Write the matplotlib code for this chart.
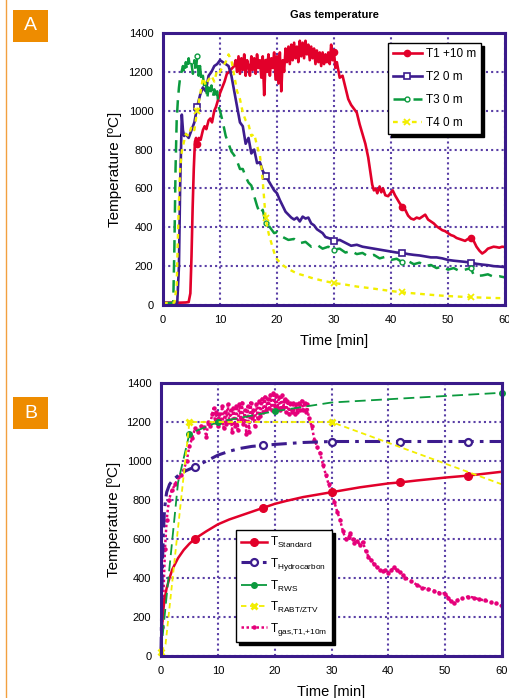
"""
Gas temperature in the tunnel test (A) and the measured curve at T1 +10 m
against the standard design fire curves (B).
"""
import numpy as np
import matplotlib
matplotlib.use("Agg")
import matplotlib.pyplot as plt
from matplotlib.lines import Line2D
from matplotlib.patches import Rectangle

plt.rcParams["font.family"] = ["Liberation Sans", "DejaVu Sans"]
plt.rcParams["mathtext.fontset"] = "custom"
plt.rcParams["mathtext.rm"] = "Liberation Sans"
plt.rcParams["mathtext.it"] = "Liberation Sans:italic"
plt.rcParams["mathtext.bf"] = "Liberation Sans:bold"

# --- Panel A: measured gas temperatures [min], [C] ---
t1_time = np.concatenate([
    [0, 1, 2, 3, 4, 4.5, 4.8, 5.0, 5.2, 5.4, 5.6, 5.8, 6.0, 6.3, 6.6,
     7.0, 7.3, 7.6, 8.0, 8.3, 8.6, 9.0, 9.3, 9.6, 10.0, 10.4, 10.8, 11.2, 11.6, 12.0],
    np.arange(12.5, 30.6, 0.25),
    [31, 31.5, 32, 32.5, 33, 33.5, 34, 34.5, 35, 35.5, 36,
     36.3, 36.7, 37, 37.3, 37.6, 38, 38.3, 38.6, 39,
     39.5, 40, 40.3, 40.7, 41],
    np.arange(41.5, 60.1, 0.5),
])
t1_temp = [
    12, 12, 12, 12, 13, 15, 60, 250, 500, 700, 840, 860, 830, 860, 850,
    900, 920, 905, 950, 960, 940, 1000, 1020, 1050, 1090, 1120, 1150, 1190, 1200, 1215,
    1230, 1260,
    1200, 1280, 1190, 1270,
    1210, 1290, 1180, 1260,
    1230, 1180, 1280, 1210,
    1270, 1190, 1290, 1220,
    1260, 1170, 1280, 1080,
    1250, 1200, 1290, 1180,
    1270, 1220, 1300, 1160,
    1280, 1140, 1300, 1100,
    1260, 1200, 1320, 1250,
    1330, 1240, 1340, 1260,
    1350, 1270, 1330, 1250,
    1360, 1280, 1350, 1270,
    1360, 1290, 1340, 1260,
    1330, 1270, 1320, 1240,
    1310, 1250, 1300, 1230,
    1300, 1240, 1290, 1250,
    1300, 1240, 1340, 1260,
    1300, 1220, 1250,
    1170, 1180, 1120, 1060, 1030, 1010, 990, 930, 880, 830, 760,
    700, 620, 590, 600, 575, 610, 580, 600, 565,
    560, 580, 590, 565, 550,
    525, 505, 490, 460, 445, 440, 450, 445, 455, 465,
    440, 430, 420, 405, 395, 385, 380, 370, 360, 355,
    345, 340, 335, 330, 340, 345, 330, 300, 280, 265,
    275, 290, 295, 300, 298, 295, 300, 298,
]

t2_time = np.concatenate([
    [0, 1, 2, 2.5, 2.8, 3.0, 3.2, 3.3, 3.5, 3.7, 4.0, 4.5, 5.0, 5.5],
    np.arange(6, 30.1, 0.5),
    np.arange(31, 60.1, 1),
])
t2_temp = [
    10, 10, 10, 12, 200, 600, 850, 980, 900, 870, 880, 860, 900, 940,
    1020, 1080, 1120, 1100, 1180, 1200, 1230, 1240, 1260, 1250,
    1240, 1230, 1180, 1100, 1020, 940, 920, 830, 860, 780,
    800, 730, 735, 690, 665, 640, 615, 590, 575, 540,
    510, 480, 465, 450, 440, 450, 430, 455, 445, 450,
    420, 410, 390, 380, 370, 350, 345, 340, 330,
    335, 320, 305, 310, 300, 295, 290, 285, 280, 275,
    270, 268, 262, 258, 255, 250, 245, 245, 240, 232,
    228, 225, 222, 218, 212, 208, 205, 200, 198, 195,
]

t3_time = np.concatenate([
    [0, 1, 1.5, 1.8, 2.0, 2.2, 2.4, 2.6, 2.8, 3.0],
    np.arange(3.25, 10.01, 0.25),
    np.arange(10.5, 20.01, 0.5),
    np.arange(21, 54.01, 1),
    [54.5, 55, 56, 57, 58, 59, 60],
])
t3_temp = [
    10, 10, 10, 15, 300, 700, 950, 1050, 1120, 1170,
    1200, 1230, 1190, 1250, 1210, 1270, 1220, 1240, 1190, 1260,
    1200, 1280, 1180, 1230, 1150, 1180, 1120, 1150, 1060, 1120,
    1080, 1130, 1070, 1110, 1060, 1100, 1020, 1000,
    940, 870, 830, 790, 770, 740, 700, 700, 660, 630,
    615, 560, 510, 470, 490, 420, 410, 390, 370, 375,
    350, 335, 340, 318, 325, 300, 310, 290, 300, 285,
    290, 270, 278, 262, 268, 250, 258, 240, 248, 232,
    238, 220, 226, 210, 218, 200, 206, 190, 198, 182,
    190, 175, 182, 190,
    155, 150, 152, 158, 145, 148, 142,
]

t4_time = np.concatenate([
    [0, 1, 2, 2.4, 2.7, 3.0, 3.3, 3.6, 4.0, 4.5, 5.0, 5.5],
    np.arange(6, 17.01, 0.5),
    [17.3, 17.6, 18.0, 18.3, 18.6, 19.0, 19.5, 20, 21, 22, 23, 24, 25, 26],
    np.arange(28, 60.1, 2),
])
t4_temp = [
    10, 10, 12, 100, 450, 700, 790, 830, 880, 870, 920, 900,
    1000, 1080, 1170, 1130, 1160, 1180, 1150, 1210, 1200, 1230,
    1250, 1290, 1260, 1180, 1100, 1060, 990, 950, 930, 870,
    880, 820, 770,
    700, 600, 450, 400, 360, 320, 270, 235, 205, 185, 170, 158, 150, 140,
    125, 113, 105, 95, 88, 80, 72, 65, 60, 55, 50, 46, 43, 40, 38, 36, 35,
]

# --- Panel B: design fire curves and measured T1 +10 m ---
std_time = [0, 0.25, 0.5, 0.75, 1, 1.5, 2, 3, 4, 5, 6, 8, 10, 12, 14, 16, 18, 20,
            22, 25, 28, 30, 35, 40, 42, 45, 50, 54, 60]
std_temp = [20, 180, 260, 310, 349, 400, 445, 502, 544, 576, 602, 640, 675, 700,
            720, 740, 760, 780, 795, 815, 830, 840, 865, 885, 890, 900, 915, 925, 945]

hc_time = [0, 0.2, 0.4, 0.6, 0.8, 1, 1.5, 2, 3, 4, 5, 6, 8, 10, 12, 14, 16, 18,
           20, 25, 30, 42, 54, 60]
hc_temp = [20, 400, 620, 740, 800, 840, 880, 900, 925, 945, 958, 970, 1000, 1030,
           1050, 1065, 1075, 1080, 1085, 1095, 1100, 1100, 1100, 1100]

rws_time = [0, 3, 5, 10, 20, 30, 60]
rws_temp = [20, 890, 1140, 1200, 1255, 1300, 1350]

rabt_time = [0, 0.8, 5, 30, 60]
rabt_temp = [20, 60, 1200, 1200, 880]

gas_time = np.concatenate([
    [0, 0.2, 0.4, 0.7, 1.0, 1.4, 1.9, 2.5, 3.0, 3.5, 4.0, 4.5, 5.0, 5.5,
     6.0, 6.5, 7.0, 7.5, 8.0, 8.3, 8.6, 9.0],
    np.arange(9.25, 26.01, 0.25),
    np.arange(26.5, 32.51, 0.5),
    [33, 33.3, 33.7, 34, 34.5, 35, 35.5, 36, 36.5, 37, 37.5, 38, 38.5, 39,
     39.5, 40, 40.5, 41, 41.5, 42, 42.5, 43],
    np.arange(44, 50.1, 1),
    [50.5, 51, 51.5, 52],
    np.arange(53, 60.1, 1),
])
gas_temp = [
    20, 150, 290, 550, 700, 800, 850, 880, 920, 930, 955, 1000, 1075, 1120,
    1168, 1150, 1180, 1176, 1125, 1200, 1180, 1240,
    1270, 1200, 1250,
    1180, 1240, 1200, 1280,
    1170, 1250, 1190, 1290,
    1200, 1260, 1150, 1270,
    1180, 1280, 1160, 1290,
    1210, 1300, 1190, 1260,
    1140, 1280, 1150, 1300,
    1220, 1260, 1180, 1290,
    1220, 1310, 1230, 1320,
    1250, 1330, 1260, 1320,
    1270, 1340, 1260, 1350,
    1280, 1340, 1270, 1330,
    1260, 1340, 1270, 1320,
    1250, 1310, 1240, 1300,
    1250, 1300, 1240, 1290,
    1250, 1300, 1260, 1310,
    1260, 1300, 1250, 1290,
    1220,
    1180, 1110, 1070, 1040, 980, 930, 880, 840, 790, 740, 700, 640, 600,
    610, 630, 600, 580, 590, 570, 585, 540, 510, 490, 470, 455, 440, 435,
    440, 425, 440, 455, 440, 430, 415, 400,
    385, 365, 350, 345, 335, 325, 320,
    300, 280, 270, 285,
    295, 305, 300, 290, 285, 275, 270, 255,
]

MARK_TIMES = [6, 18, 30, 42, 54]

RED = "#e2002a"
PURPLE = "#3d1c8e"
GREEN = "#0b9a3e"
YELLOW = "#f2ee00"
PINK = "#e5007a"
ORANGE = "#ee8c00"
FRAME = "#3a1a8a"
GRID = "#5a3fa6"


def mark_idx(times, marks):
    times = np.asarray(times)
    return [int(np.argmin(np.abs(times - m))) for m in marks]


def style_axes(ax):
    ax.set_xlim(0, 60)
    ax.set_ylim(0, 1400)
    ax.set_xticks(range(0, 61, 10))
    ax.set_yticks(range(0, 1401, 200))
    ax.grid(True, color=GRID, linestyle=(0, (1, 1.5)), linewidth=1.5)
    ax.set_axisbelow(True)
    for s in ax.spines.values():
        s.set_color(FRAME)
        s.set_linewidth(2.2)
    ax.tick_params(length=0, labelsize=8, pad=7)
    ax.set_xlabel("Time [min]", fontsize=10.5)
    ax.set_ylabel("Temperature [ºC]", fontsize=11)


fig = plt.figure(figsize=(5.09, 6.98), dpi=100)
axA = fig.add_axes([163 / 509, 1 - 305 / 698, 342 / 509, 272 / 698])
axB = fig.add_axes([161 / 509, 1 - 656 / 698, 341 / 509, 273 / 698])

# --- Panel A ---
style_axes(axA)
axA.plot(t1_time, t1_temp, color=RED, lw=1.9, marker="o", ms=4.5,
         markevery=mark_idx(t1_time, MARK_TIMES), label="T1 +10 m")
axA.plot(t2_time, t2_temp, color=PURPLE, lw=1.9, marker="s", ms=4, mfc="white",
         mew=1.2, markevery=mark_idx(t2_time, MARK_TIMES), label="T2 0 m")
axA.plot(t3_time, t3_temp, color=GREEN, lw=1.8, ls=(0, (5, 3)), marker="o", ms=3.5,
         mfc="white", mew=1, markevery=mark_idx(t3_time, MARK_TIMES), label="T3 0 m")
axA.plot(t4_time, t4_temp, color=YELLOW, lw=1.7, ls=(0, (2, 2)), marker="x", ms=4.5,
         mew=1.3, markevery=mark_idx(t4_time, MARK_TIMES), label="T4 0 m")
axA.text(0.5, (305 - 15) / 272, "Gas temperature", transform=axA.transAxes,
         ha="center", va="center", fontsize=8, fontweight="bold")
axA.xaxis.set_label_coords(0.5, -(334 - 305) / 272)
axA.xaxis.label.set_va("top")
axA.yaxis.set_label_coords(-(163 - 122) / 342, 0.5)
legA = axA.legend(loc="upper left", bbox_to_anchor=((388 - 163) / 342, (305 - 43) / 272),
                  borderaxespad=0, fontsize=8.5, frameon=True, fancybox=False,
                  shadow={"color": "black", "alpha": 1}, handlelength=2.5,
                  handletextpad=0.3, labelspacing=0.95, borderpad=0.4)
legA.get_frame().set_edgecolor("black")
legA.get_frame().set_linewidth(1)
legA.get_frame().set_alpha(1)

# --- Panel B ---
style_axes(axB)
h_gas, = axB.plot(gas_time, gas_temp, color=PINK, lw=1.8, ls=(0, (1, 1)), marker="o",
                  ms=2.2, label=r"T$_{\mathrm{gas{,}T1{,}{+}10m}}$")
h_std, = axB.plot(std_time, std_temp, color=RED, lw=1.8, marker="o", ms=5.5,
                  markevery=mark_idx(std_time, MARK_TIMES), clip_on=False,
                  label=r"T$_{\mathrm{Standard}}$")
h_hc, = axB.plot(hc_time, hc_temp, color=PURPLE, lw=2.2, ls=(0, (5, 2, 1.2, 2)),
                 marker="o", ms=5, mfc="white", mew=1.6,
                 markevery=mark_idx(hc_time, MARK_TIMES), clip_on=False,
                 label=r"T$_{\mathrm{Hydrocarbon}}$")
h_rws, = axB.plot(rws_time, rws_temp, color=GREEN, lw=1.3, ls=(0, (6, 3)), marker="o",
                  ms=4, markevery=[2, 3, 4, 6], clip_on=False, label=r"T$_{\mathrm{RWS}}$")
h_rabt, = axB.plot(rabt_time, rabt_temp, color=YELLOW, lw=1.3, ls=(0, (3, 2)),
                   marker="x", ms=5, mew=2, markevery=[0, 2, 3], clip_on=False,
                   label=r"T$_{\mathrm{RABT/ZTV}}$")
axB.xaxis.set_label_coords(0.5, -(685 - 656) / 273)
axB.xaxis.label.set_va("top")
axB.yaxis.set_label_coords(-(161 - 121) / 341, 0.5)
legB = axB.legend(handles=[h_std, h_hc, h_rws, h_rabt, h_gas], loc="upper left",
                  bbox_to_anchor=((236 - 161) / 341, (656 - 530) / 273), borderaxespad=0,
                  fontsize=8.5, frameon=True, fancybox=False,
                  shadow={"color": "black", "alpha": 1}, handlelength=2.2,
                  handletextpad=0.3, labelspacing=0.5, borderpad=0.4)
legB.get_frame().set_edgecolor("black")
legB.get_frame().set_linewidth(1)
legB.get_frame().set_alpha(1)

# --- page decorations: orange rule and panel letters ---
fig.add_artist(Line2D([5.5 / 509, 5.5 / 509], [0, 1], transform=fig.transFigure,
                      color="#f2a040", lw=1))
for letter, ytop in (("A", 10), ("B", 397)):
    fig.add_artist(Rectangle((13 / 509, 1 - (ytop + 32) / 698), 35 / 509, 32 / 698,
                             transform=fig.transFigure, color=ORANGE, lw=0))
    fig.text(30.5 / 509, 1 - (ytop + 16) / 698, letter, color="white", fontsize=14,
             ha="center", va="center")

fig.savefig("out.png", dpi=100)
